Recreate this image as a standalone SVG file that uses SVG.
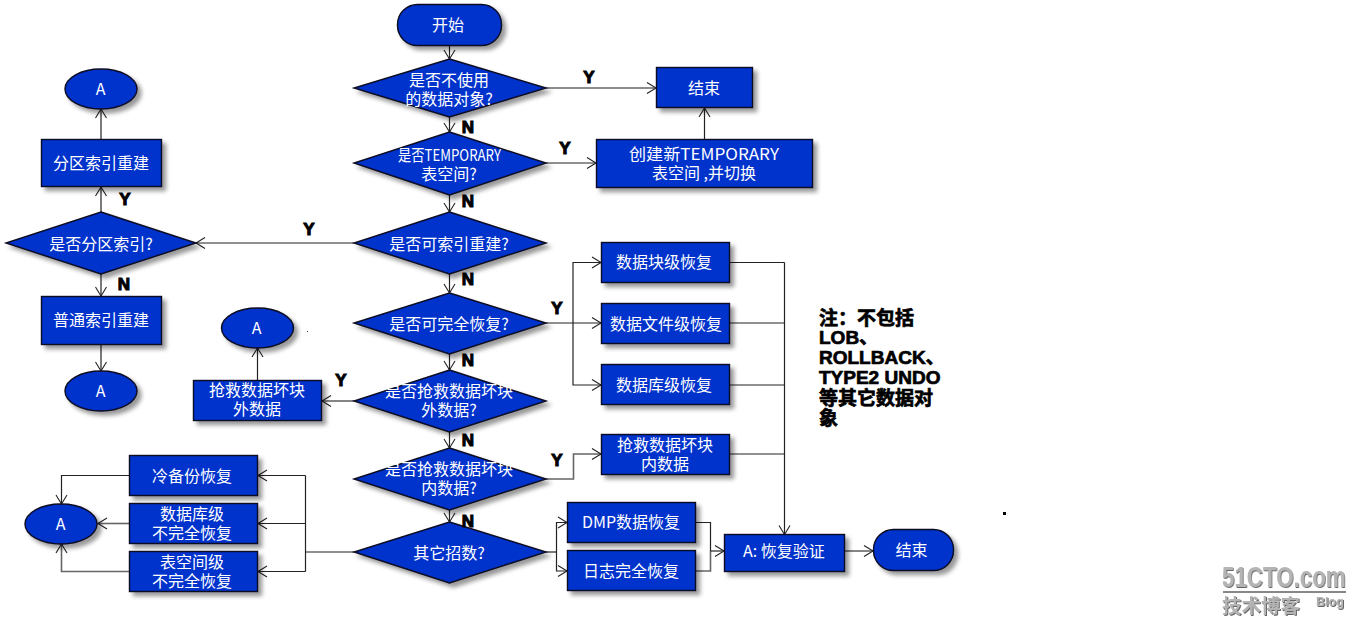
<svg xmlns="http://www.w3.org/2000/svg" width="1360" height="630" viewBox="0 0 1360 630">
<style>
.n{fill:#0433cc;stroke:#0a0a20;stroke-width:1.4;filter:url(#sh)}
.t{fill:#fff;font-family:"Noto Sans CJK SC","Noto Sans",sans-serif;font-size:16px;text-anchor:middle}
.c{fill:none;stroke:#222;stroke-width:1.2}
.a{marker-end:url(#ar)}
.g{stroke:#666;stroke-width:1.6}
.yn{fill:#000;font-family:"Liberation Sans",sans-serif;font-size:17px;font-weight:bold;stroke:#000;stroke-width:1.1;text-anchor:middle}
.note{fill:#000;font-family:"Liberation Sans","Noto Sans CJK SC",sans-serif;font-size:19px;font-weight:bold;stroke:#000;stroke-width:.7}
.wm{fill:#b4b4b4;font-family:"Liberation Sans","Noto Sans CJK SC",sans-serif;font-weight:bold;filter:url(#wms)}
</style>
<defs>
<filter id="sh" x="-10%" y="-15%" width="125%" height="140%"><feDropShadow dx="4" dy="4" stdDeviation="2" flood-color="#000" flood-opacity=".4"/></filter>
<filter id="wms" x="-5%" y="-10%" width="110%" height="125%"><feDropShadow dx="1" dy="1" stdDeviation=".3" flood-color="#666"/></filter>
<marker id="ar" markerUnits="userSpaceOnUse" markerWidth="12" markerHeight="14" refX="10" refY="6.5" orient="auto"><path d="M1 1L10 6.5L1 12" fill="none" stroke="#222" stroke-width="1.1"/></marker>
</defs>

<g id="connectors">
<path class="c a" d="M449.5 46V59"/>
<path class="c a g" d="M546 88H656"/>
<path class="c a" d="M449.5 117V132"/>
<path class="c a" d="M546 163H596"/>
<path class="c a" d="M704.5 139V108"/>
<path class="c a" d="M449.5 195V212"/>
<path class="c a" d="M354 243H196"/>
<path class="c a" d="M449.5 274V293"/>
<path class="c a" d="M101 212V187"/>
<path class="c a" d="M101 139V109"/>
<path class="c a" d="M101 274V296"/>
<path class="c a" d="M101 345V371"/>
<path class="c a" d="M546 323H601"/>
<path class="c a" d="M573 323V262.500H601"/>
<path class="c a" d="M573 323V385H601"/>
<path class="c a" d="M449.500 354V370"/>
<path class="c a g" d="M354 401H322"/>
<path class="c a" d="M257.500 380V348"/>
<path class="c a" d="M449.500 432V448"/>
<path class="c a" d="M449.500 510V522"/>
<path class="c a g" d="M546 479H573.500V454H601"/>
<path class="c" d="M729.500 262.500H784.500M729.500 323H784.500M729.500 385H784.500M729.500 454H784.500"/>
<path class="c a" d="M784.500 262.500V534.500"/>
<path class="c" d="M546 552H556.500"/>
<path class="c a" d="M556.500 552V522.500H567"/>
<path class="c a" d="M556.500 552V571H567"/>
<path class="c" d="M695.500 522.500H710.500V551"/>
<path class="c g" d="M695.500 571H710.500V551"/>
<path class="c a" d="M710.500 551H724"/>
<path class="c a g" d="M844.500 551H873"/>
<path class="c" d="M354 552H305.500"/>
<path class="c a" d="M305.500 475.500H258"/>
<path class="c a" d="M305.500 523.500H258"/>
<path class="c a" d="M305.500 571.500H258"/>
<path class="c" d="M305.500 475.500V571.500"/>
<path class="c a" d="M129.500 475.500H61.500V504"/>
<path class="c a g" d="M129.500 523.500H98"/>
<path class="c a g" d="M129.500 571.500H61.500V544"/>
</g>

<g id="start"><rect class="n" x="397.500" y="4.500" width="104" height="41" rx="20"/><text class="t" x="448" y="31">开始</text></g>
<g id="d-unused"><polygon class="n" points="449.500,59 546,88 449.500,117 354,88"/><text class="t" x="449" y="86">是否不使用</text><text class="t" x="449" y="105">的数据对象?</text></g>
<g id="end-top"><rect class="n" x="656.500" y="67.500" width="96" height="40"/><text class="t" x="704" y="94">结束</text></g>
<g id="d-temp"><polygon class="n" points="449.500,132 546,163 449.500,195 354,163"/><text class="t" x="449.500" y="161" textLength="103" lengthAdjust="spacingAndGlyphs">是否TEMPORARY</text><text class="t" x="449" y="180">表空间?</text></g>
<g id="new-temp"><rect class="n" x="596.500" y="139.500" width="216" height="48"/><text class="t" x="704" y="160" textLength="150" lengthAdjust="spacingAndGlyphs">创建新TEMPORARY</text><text class="t" x="704" y="179">表空间 ,并切换</text></g>
<g id="d-index"><polygon class="n" points="449.500,212 546,243 449.500,274 354,243"/><text class="t" x="449" y="250">是否可索引重建?</text></g>
<g id="d-part"><polygon class="n" points="101,212 196,243 101,274 6,243"/><text class="t" x="101" y="250">是否分区索引?</text></g>
<g id="a-top"><ellipse class="n" cx="101" cy="89" rx="36" ry="20"/><text class="t" x="100.500" y="95">A</text></g>
<g id="part-rebuild"><rect class="n" x="41.500" y="139.500" width="120" height="47"/><text class="t" x="101" y="169">分区索引重建</text></g>
<g id="plain-rebuild"><rect class="n" x="41.500" y="296.500" width="120" height="48"/><text class="t" x="101" y="326">普通索引重建</text></g>
<g id="a-left"><ellipse class="n" cx="101" cy="391" rx="36" ry="20"/><text class="t" x="100.500" y="397">A</text></g>
<g id="d-full"><polygon class="n" points="449.500,293 546,323 449.500,354 354,323"/><text class="t" x="449" y="330">是否可完全恢复?</text></g>
<g id="block"><rect class="n" x="601.500" y="242.500" width="128" height="40"/><text class="t" x="664" y="268">数据块级恢复</text></g>
<g id="file"><rect class="n" x="601.500" y="303.500" width="128" height="40"/><text class="t" x="666" y="330">数据文件级恢复</text></g>
<g id="db"><rect class="n" x="601.500" y="364.500" width="128" height="40"/><text class="t" x="664" y="391">数据库级恢复</text></g>
<g id="a-mid"><ellipse class="n" cx="257.500" cy="328" rx="36" ry="20"/><text class="t" x="256.500" y="334">A</text></g>
<g id="d-outer"><polygon class="n" points="449.500,370 546,401 449.500,432 354,401"/><text class="t" x="449" y="397">是否抢救数据坏块</text><text class="t" x="449" y="416">外数据?</text></g>
<g id="outer"><rect class="n" x="193.500" y="380.500" width="128" height="40"/><text class="t" x="257" y="396">抢救数据坏块</text><text class="t" x="257" y="415">外数据</text></g>
<g id="d-inner"><polygon class="n" points="449.500,448 546,479 449.500,510 354,479"/><text class="t" x="449" y="475">是否抢救数据坏块</text><text class="t" x="449" y="494">内数据?</text></g>
<g id="inner"><rect class="n" x="601.500" y="434.500" width="128" height="40"/><text class="t" x="665" y="451">抢救数据坏块</text><text class="t" x="665" y="470">内数据</text></g>
<g id="d-other"><polygon class="n" points="449.500,522 546,552 449.500,583 354,552"/><text class="t" x="449" y="559">其它招数?</text></g>
<g id="dmp"><rect class="n" x="567.500" y="502.500" width="128" height="40"/><text class="t" x="631" y="528">DMP数据恢复</text></g>
<g id="log"><rect class="n" x="567.500" y="550.500" width="128" height="40"/><text class="t" x="631" y="577">日志完全恢复</text></g>
<g id="verify"><rect class="n" x="724.500" y="534.500" width="120" height="37"/><text class="t" x="784" y="557">A: 恢复验证</text></g>
<g id="end-bottom"><rect class="n" x="873.500" y="529.500" width="80" height="41" rx="20"/><text class="t" x="911.500" y="556">结束</text></g>
<g id="cold"><rect class="n" x="129.500" y="455.500" width="128" height="40"/><text class="t" x="192" y="482">冷备份恢复</text></g>
<g id="db-incomplete"><rect class="n" x="129.500" y="503.500" width="128" height="40"/><text class="t" x="192" y="520">数据库级</text><text class="t" x="192" y="539">不完全恢复</text></g>
<g id="ts-incomplete"><rect class="n" x="129.500" y="551.500" width="128" height="40"/><text class="t" x="192" y="568">表空间级</text><text class="t" x="192" y="587">不完全恢复</text></g>
<g id="a-bottom"><ellipse class="n" cx="61" cy="524" rx="36" ry="20"/><text class="t" x="60.500" y="530">A</text></g>

<g id="edge-labels">
<text class="yn" x="589" y="83">Y</text><text class="yn" x="565" y="154">Y</text><text class="yn" x="309" y="235">Y</text><text class="yn" x="125" y="205">Y</text><text class="yn" x="557" y="314">Y</text><text class="yn" x="341" y="386">Y</text><text class="yn" x="557" y="466">Y</text>
<text class="yn" x="468" y="133">N</text><text class="yn" x="468" y="207">N</text><text class="yn" x="468" y="285">N</text><text class="yn" x="124" y="290">N</text><text class="yn" x="468" y="366">N</text><text class="yn" x="468" y="446">N</text><text class="yn" x="468" y="527">N</text>
</g>

<g id="note" class="note">
<text x="819" y="325">注：不包括</text>
<text x="819" y="344">LOB、</text>
<text x="819" y="364">ROLLBACK、</text>
<text x="819" y="384">TYPE2 UNDO</text>
<text x="819" y="405">等其它数据对</text>
<text x="819" y="425">象</text>
</g>
<rect x="307" y="331" width="1" height="1" fill="#444"/>
<rect x="1003" y="512" width="3" height="3" fill="#000"/>

<g id="logo">
<text class="wm" transform="translate(1222 587) scale(.745 1)" font-size="30">51CTO.com</text>
<rect x="1223" y="591" width="123" height="2" fill="#888"/>
<text class="wm" x="1222" y="613" font-size="19.500">技术博客</text>
<text class="wm" x="1316" y="606" font-size="12.500">Blog</text>
</g>
</svg>
